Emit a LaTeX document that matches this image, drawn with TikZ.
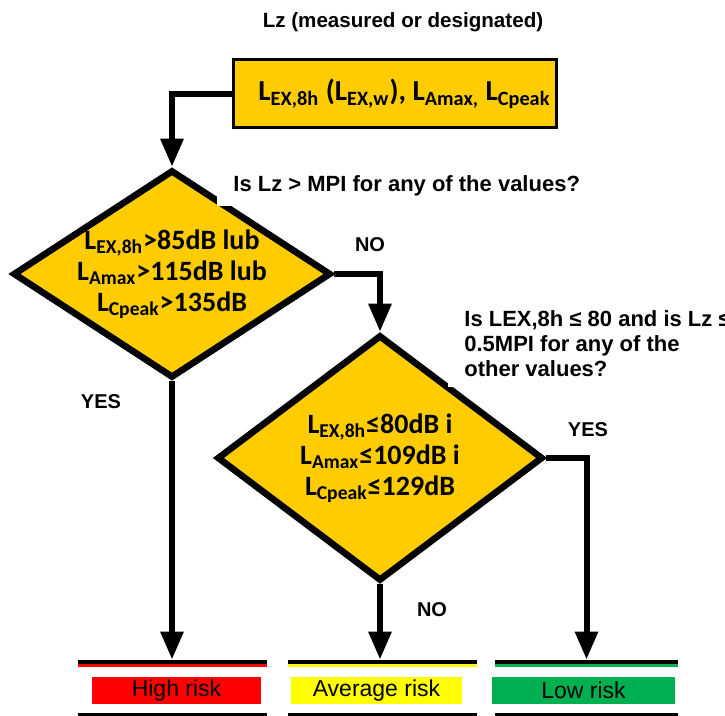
\documentclass[tikz,border=0pt]{standalone}
\usepackage{fontspec}
\setmainfont{Liberation Sans}
\newfontfamily\calfont{Carlito}
\usetikzlibrary{shapes.geometric, arrows.meta, positioning}
\definecolor{gold}{RGB}{255,204,0}
\definecolor{riskred}{RGB}{255,0,0}
\definecolor{riskyellow}{RGB}{255,255,0}
\definecolor{riskgreen}{RGB}{0,176,80}

\begin{document}
\begin{tikzpicture}[x=0.5pt, y=-0.5pt,
    measbox/.style={draw, line width=1.5pt, fill=gold, minimum width=161.5pt,
                minimum height=34pt, inner xsep=2pt,
                font=\calfont\bfseries\fontsize{14.5}{16}\selectfont},
    decision/.style={diamond, draw, line width=3.3pt, fill=gold, inner sep=0pt},
    dtext/.style={align=center, inner sep=0pt,
                font=\calfont\bfseries\fontsize{14}{15.5}\selectfont},
    arrow/.style={-{Triangle[length=14pt, width=11pt]}, line width=3pt},
    lbl/.style={font=\bfseries\fontsize{10}{12}\selectfont},
    question/.style={fill=white, align=left, inner xsep=8pt, inner ysep=5pt,
                font=\bfseries\fontsize{11}{12.5}\selectfont},
    riskbar/.style={minimum width=94.5pt, minimum height=3.5pt, inner sep=0pt,
                path picture={\fill[black] (path picture bounding box.north west)
                rectangle ([yshift=-2pt]path picture bounding box.north east);}},
    riskbox/.style={minimum height=13.5pt, inner sep=0pt,
                font=\fontsize{11.5}{13}\selectfont},
]
\clip (0,0) rectangle (725,716);

% input values
\node[lbl, font=\bfseries\fontsize{10.3}{12}\selectfont] (title) at (403,22) {Lz (measured or designated)};
\node[measbox] (meas) at (394.5,94)
    {\hspace{10pt}L\textsubscript{EX,8h} (L\textsubscript{EX,w}), L\textsubscript{Amax,} L\textsubscript{Cpeak}};

% first check
\node[decision, minimum width=159pt, minimum height=104pt] (d1) at (172,274) {};
\node[dtext] (d1txt) at (d1.center)
    {L\textsubscript{EX,8h}>85dB lub\\L\textsubscript{Amax}>115dB lub\\L\textsubscript{Cpeak}>135dB};
\node[question, anchor=west] (q1) at (217,186) {Is Lz > MPI for any of the values?};

% second check
\node[decision, minimum width=163pt, minimum height=123pt] (d2) at (380,458) {};
\node[dtext] (d2txt) at (d2.center)
    {L\textsubscript{EX,8h}≤80dB i\\L\textsubscript{Amax}≤109dB i\\L\textsubscript{Cpeak}≤129dB};
\node[question, anchor=north west] (q2) at (448,300)
    {Is LEX,8h ≤ 80 and is Lz ≤\\0.5MPI for any of the\\other values?};

% outcomes
\node[riskbar, fill=riskred] (highbar) at (172.5,663.5) {};
\node[riskbox, fill=riskred, minimum width=84.5pt] (high) at (176.5,690.5) {High risk};
\node[riskbar, fill=riskred] (highfoot) at (172.5,716.5) {};
\node[riskbar, fill=riskyellow] (avgbar) at (382.5,663.5) {};
\node[riskbox, fill=riskyellow, minimum width=85.5pt] (avg) at (376.5,690.5) {Average risk};
\node[riskbar, fill=riskyellow] (avgfoot) at (382.5,716.5) {};
\node[riskbar, fill=riskgreen, minimum width=91.5pt] (lowbar) at (586.5,663.5) {};
\node[riskbox, fill=riskgreen, minimum width=91.5pt] (low) at (583.5,690.5) {Low risk};
\node[riskbar, fill=riskgreen, minimum width=91.5pt] (lowfoot) at (586.5,716.5) {};

% connectors
\draw[arrow] (meas.west) -| (d1.north);
\draw[arrow] (d1.east) -| (d2.north);
\draw[arrow] (d1.south) -- (d1.south |- highbar.north);
\draw[arrow] (d2.east) -| (lowbar.north);
\draw[arrow] (d2.south) -- (d2.south |- avgbar.north);

\node[lbl] (no1) at (370,245) {NO};
\node[lbl] (yes1) at (101,402) {YES};
\node[lbl] (yes2) at (588,430) {YES};
\node[lbl] (no2) at (432,610) {NO};
\end{tikzpicture}
\end{document}
